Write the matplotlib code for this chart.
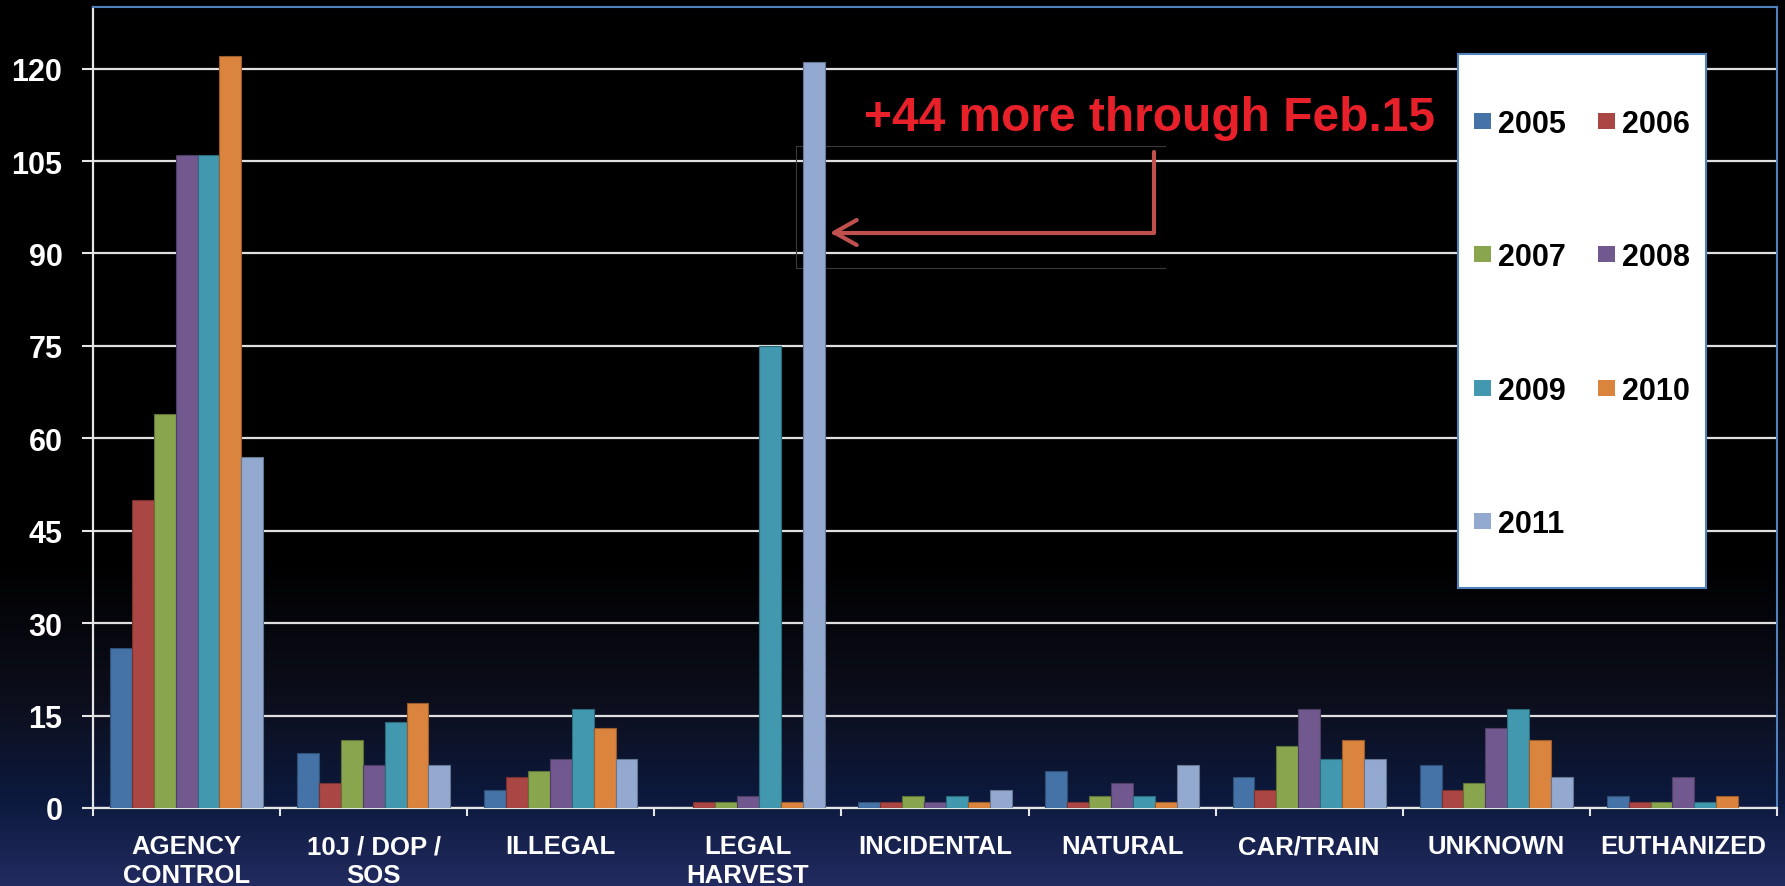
import numpy as np
import matplotlib.pyplot as plt
from matplotlib.patches import Rectangle
from matplotlib.colors import LinearSegmentedColormap

# ==============================================================
# data
categories = ['AGENCY\nCONTROL', '10J / DOP /\nSOS', 'ILLEGAL', 'LEGAL\nHARVEST',
              'INCIDENTAL', 'NATURAL', 'CAR/TRAIN', 'UNKNOWN', 'EUTHANIZED']
years = ['2005', '2006', '2007', '2008', '2009', '2010', '2011']
v2005 = [26, 9, 3, 0, 1, 6, 5, 7, 2]
v2006 = [50, 4, 5, 1, 1, 1, 3, 3, 1]
v2007 = [64, 11, 6, 1, 2, 2, 10, 4, 1]
v2008 = [106, 7, 8, 2, 1, 4, 16, 13, 5]
v2009 = [106, 14, 16, 75, 2, 2, 8, 16, 1]
v2010 = [122, 17, 13, 1, 1, 1, 11, 11, 2]
v2011 = [57, 7, 8, 121, 3, 7, 8, 5, 0]
series = [v2005, v2006, v2007, v2008, v2009, v2010, v2011]
yticks = [0, 15, 30, 45, 60, 75, 90, 105, 120]
note = '+44 more through Feb.15'

colors = ['#4572A7', '#AA4643', '#89A54E', '#71588F', '#4198AF', '#DB843D', '#93A9CF']

# ==============================================================
# sizing
W, H = 1785, 887
DPI = 100
TICKFONT = 22
CATFONT = 18.5
LEGFONT = 22
NOTEFONT = 34.5
BARW = 0.117

plt.rcParams['font.family'] = ['Liberation Sans', 'DejaVu Sans']
plt.rcParams['font.weight'] = 'bold'

fig = plt.figure(figsize=(W / DPI, H / DPI), dpi=DPI)

# background gradient (black top -> navy bottom)
bg = fig.add_axes([0, 0, 1, 1], zorder=-10)
cmap = LinearSegmentedColormap.from_list('bg', [
    (0.0, '#000000'), (0.63, '#000000'), (0.79, '#0c0e1b'),
    (0.91, '#0d1a3f'), (1.0, '#222b5f')])
grad = np.linspace(0, 1, 400).reshape(-1, 1)
bg.imshow(grad, aspect='auto', cmap=cmap, extent=[0, 1, 0, 1], origin='upper')
bg.set_axis_off()

ax = fig.add_axes([93 / W, 1 - 809 / H, (1777 - 93) / W, (809 - 8) / H])
ax.set_facecolor('none')

x = np.arange(len(categories))
for i, (vals, c) in enumerate(zip(series, colors)):
    edge = tuple(ch * 0.7 for ch in plt.matplotlib.colors.to_rgb(c))
    ax.bar(x + (i - 3) * BARW, vals, width=BARW, color=c, edgecolor=edge,
           linewidth=0.8, zorder=3)

ax.set_xlim(-0.5, len(categories) - 0.5)
ax.set_ylim(0, 130)
ax.set_yticks(yticks)
ax.set_yticklabels([str(t) for t in yticks], fontsize=TICKFONT, color='white',
                   fontweight='bold')
ax.set_xticks(x)
ax.set_xticklabels(categories, fontsize=CATFONT, color='white',
                   fontweight='bold', linespacing=1.25)
ax.set_xticks(np.arange(len(categories) + 1) - 0.5, minor=True)
ax.tick_params(axis='x', which='major', length=0, pad=19)
ax.tick_params(axis='x', which='minor', length=6, width=1.5, color='#e6e6e6',
               direction='out')
ax.tick_params(axis='y', length=8, width=1.5, color='#e6e6e6', pad=14)

ax.grid(axis='y', color='#e0e0e0', linewidth=1.6)
ax.set_axisbelow(True)
for side in ['left', 'bottom']:
    ax.spines[side].set_color('#e6e6e6')
    ax.spines[side].set_linewidth(1.6)
for side in ['top', 'right']:
    ax.spines[side].set_color('#4F81BD')
    ax.spines[side].set_linewidth(1.5)

# annotation: faint text-box outline, elbow arrow and red note
ax.plot([5.23, 3.257, 3.257, 5.23], [107.5, 107.5, 87.6, 87.6],
        color='#3a3a3a', linewidth=0.8, zorder=2)
ax.annotate('', xy=(3.44, 93.4), xytext=(5.17, 106.5),
            arrowprops=dict(arrowstyle='->,head_length=0.8,head_width=0.45',
                            connectionstyle='angle,angleA=90,angleB=0,rad=0',
                            color='#C0504D', linewidth=3, mutation_scale=20,
                            shrinkA=0, shrinkB=0),
            zorder=5)
ax.text(5.149, 110.1, note, color='#E8202A', fontsize=NOTEFONT,
        fontweight='bold', ha='center', va='baseline', zorder=6)

# legend box drawn by hand (two columns, widely spaced rows)
lx0, ly0, lx1, ly1 = 1458, 55, 1706, 589
fig.patches.append(Rectangle((lx0 / W, 1 - ly1 / H), (lx1 - lx0) / W, (ly1 - ly0) / H,
                             transform=fig.transFigure, facecolor='white',
                             edgecolor='#4F81BD', linewidth=1.5, zorder=20))
row_y = [122, 255, 389, 522]
col_x = [1474, 1598]
for k, (yr, c) in enumerate(zip(years, colors)):
    cx = col_x[k % 2]
    cy = row_y[k // 2]
    fig.patches.append(Rectangle((cx / W, 1 - (cy + 8) / H), 17 / W, 16 / H,
                                 transform=fig.transFigure, facecolor=c,
                                 edgecolor='none', zorder=21))
    fig.text((cx + 24) / W, 1 - (cy + 11) / H, yr, fontsize=LEGFONT,
             fontweight='bold', color='black', ha='left', va='baseline', zorder=22)

fig.savefig('out.png', dpi=DPI)
